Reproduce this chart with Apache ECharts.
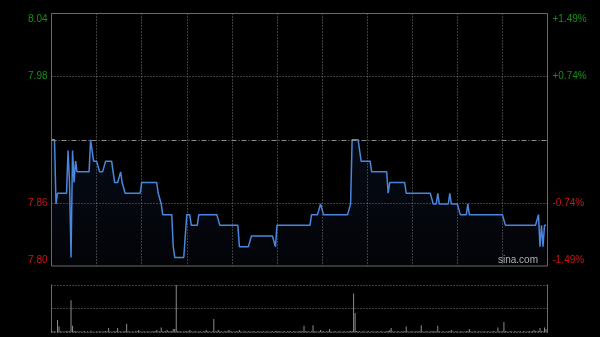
<!DOCTYPE html>
<html><head><meta charset="utf-8">
<script src="https://cdn.jsdelivr.net/npm/echarts@6/dist/echarts.min.js"></script>
<style>html,body{margin:0;padding:0;background:#000;}#c{width:600px;height:337px;}</style>
</head><body><div id="c"></div>
<script>
// ---- data ----
const prevClose = 7.92;
const priceMin = 7.802;
const priceMax = 8.038;
const priceTickLabels = ['7.80', '7.86', '', '7.98', '8.04'];
const pctTickLabels = ['-1.49%', '-0.74%', '', '+0.74%', '+1.49%'];

const price = [
7.92,7.92,7.92,7.86,7.87,7.87,7.87,7.87,7.87,7.87,
7.87,7.91,7.88,7.81,7.91,7.88,7.90,7.89,7.89,7.89,
7.89,7.89,7.89,7.89,7.89,7.89,7.92,7.91,7.90,7.90,
7.90,7.90,7.89,7.89,7.89,7.89,7.90,7.90,7.90,7.90,
7.90,7.90,7.88,7.88,7.88,7.88,7.89,7.88,7.88,7.87,
7.87,7.87,7.87,7.87,7.87,7.87,7.87,7.87,7.87,7.87,
7.88,7.88,7.88,7.88,7.88,7.88,7.88,7.88,7.88,7.88,
7.88,7.87,7.87,7.86,7.85,7.85,7.85,7.85,7.85,7.85,
7.85,7.82,7.81,7.81,7.81,7.81,7.81,7.81,7.81,7.81,
7.85,7.85,7.85,7.84,7.84,7.84,7.84,7.84,7.85,7.85,
7.85,7.85,7.85,7.85,7.85,7.85,7.85,7.85,7.85,7.85,
7.85,7.85,7.84,7.84,7.84,7.84,7.84,7.84,7.84,7.84,
7.84,7.84,7.84,7.84,7.84,7.82,7.82,7.82,7.82,7.82,
7.82,7.82,7.82,7.83,7.83,7.83,7.83,7.83,7.83,7.83,
7.83,7.83,7.83,7.83,7.83,7.83,7.83,7.83,7.83,7.82,
7.84,7.84,7.84,7.84,7.84,7.84,7.84,7.84,7.84,7.84,
7.84,7.84,7.84,7.84,7.84,7.84,7.84,7.84,7.84,7.84,
7.84,7.84,7.84,7.85,7.85,7.85,7.85,7.85,7.85,7.86,
7.86,7.85,7.85,7.85,7.85,7.85,7.85,7.85,7.85,7.85,
7.85,7.85,7.85,7.85,7.85,7.85,7.85,7.85,7.85,7.86,
7.92,7.92,7.92,7.92,7.92,7.92,7.90,7.90,7.90,7.90,
7.90,7.90,7.90,7.89,7.89,7.89,7.89,7.89,7.89,7.89,
7.89,7.89,7.89,7.89,7.87,7.88,7.88,7.88,7.88,7.88,
7.88,7.88,7.88,7.88,7.88,7.88,7.87,7.87,7.87,7.87,
7.87,7.87,7.87,7.87,7.87,7.87,7.87,7.87,7.87,7.87,
7.87,7.87,7.87,7.87,7.86,7.86,7.86,7.87,7.86,7.86,
7.86,7.86,7.86,7.86,7.86,7.87,7.86,7.86,7.86,7.86,
7.86,7.86,7.85,7.85,7.85,7.85,7.85,7.86,7.85,7.85,
7.85,7.85,7.85,7.85,7.85,7.85,7.85,7.85,7.85,7.85,
7.85,7.85,7.85,7.85,7.85,7.85,7.85,7.85,7.85,7.85,
7.85,7.85,7.84,7.84,7.84,7.84,7.84,7.84,7.84,7.84,
7.84,7.84,7.84,7.84,7.84,7.84,7.84,7.84,7.84,7.84,
7.84,7.84,7.84,7.84,7.85,7.82,7.84,7.82,7.84,7.84
];

// relative volume (tallest bar = 100)
const volume = [
3,2,2,1,26,12,2,2,1,2,
2,3,2,68,14,3,2,2,1,2,
1,2,2,1,2,1,2,2,1,1,
2,1,2,2,1,2,3,2,9,2,
1,2,2,3,9,2,2,1,2,3,
18,2,2,1,2,1,2,2,5,2,
1,2,2,1,2,2,1,2,2,3,
5,2,2,10,2,2,3,5,2,2,
3,7,7,100,3,2,2,1,2,2,
2,2,5,2,1,2,2,1,2,2,
1,2,2,5,2,2,1,2,28,2,
2,5,2,2,1,2,2,2,5,2,
2,1,2,2,2,5,2,1,2,2,
1,2,2,1,2,2,1,2,2,1,
2,2,1,2,2,1,2,2,1,3,
3,2,2,1,2,2,1,2,2,2,
1,2,2,1,2,2,3,2,14,2,
2,2,1,2,15,2,2,1,2,5,
2,2,1,2,2,7,2,1,2,2,
1,2,2,1,2,2,1,2,2,3,
3,82,41,3,2,2,1,2,2,1,
2,2,1,2,2,1,2,2,1,2,
2,1,2,2,3,5,9,2,2,1,
2,2,1,2,2,2,12,2,1,2,
2,1,2,2,2,2,15,2,1,2,
2,1,2,2,3,2,2,14,2,1,
2,2,1,2,2,3,5,2,1,2,
2,1,2,2,1,2,2,3,7,2,
1,2,2,1,2,2,1,2,2,1,
2,2,1,2,2,2,1,10,2,2,
2,22,3,2,1,2,2,1,2,2,
1,2,2,1,2,2,1,2,2,2,
2,5,2,2,3,9,2,2,10,7
];

// minute categories 09:30-12:00, 13:01-16:00 (331 slots)
const times = [];
(function () {
  function fmt(m) { const h = Math.floor(m / 60), mm = m % 60; return (h < 10 ? '0' : '') + h + ':' + (mm < 10 ? '0' : '') + mm; }
  for (let m = 570; m <= 720; m++) times.push(fmt(m));
  for (let m = 781; m <= 960; m++) times.push(fmt(m));
})();

const GREEN = '#159015', RED = '#cc1616', GRID = '#7a7a7a', FRAME = '#6a6a6a';
const DOT = [1, 2];

const chart = echarts.init(document.getElementById('c'), null, { renderer: 'canvas' });

function labelFmt(arr) {
  return function (v) {
    const i = Math.round(v) + 2;
    const t = arr[i];
    if (!t) return '';
    if (i === 4) return '{upTop|' + t + '}';
    if (i === 3) return '{up|' + t + '}';
    if (i === 1) return '{dn|' + t + '}';
    return '{dnBot|' + t + '}';
  };
}
const FF = 'Liberation Sans, Arial, sans-serif';
const rich = {
  upTop: { color: GREEN, fontSize: 10, fontFamily: FF, padding: [12, 0, 0, 0] },
  up: { color: GREEN, fontSize: 10, fontFamily: FF },
  dn: { color: RED, fontSize: 10, fontFamily: FF },
  dnBot: { color: RED, fontSize: 10, fontFamily: FF, padding: [0, 0, 12, 0] }
};

chart.setOption({
  backgroundColor: '#000',
  animation: false,
  grid: [
    { left: 51.5, right: 52.5, top: 13.5, height: 252.5, show: true, borderColor: FRAME, borderWidth: 1, backgroundColor: 'transparent' },
    { left: 51.5, right: 52.5, top: 285, height: 47.3, show: false }
  ],
  xAxis: [
    { gridIndex: 0, type: 'category', data: times, boundaryGap: false,
      axisLine: { show: false }, axisTick: { show: false }, axisLabel: { show: false },
      splitLine: { show: true, interval: function (idx) { return idx % 30 === 0 && idx > 0 && idx < 330; },
        lineStyle: { color: GRID, type: DOT, width: 1 } } },
    { gridIndex: 1, type: 'category', data: times, boundaryGap: false,
      axisLine: { show: false }, axisTick: { show: false }, axisLabel: { show: false }, splitLine: { show: false } }
  ],
  yAxis: [
    { gridIndex: 0, type: 'value', min: priceMin, max: priceMax, show: false, splitLine: { show: false } },
    { gridIndex: 0, type: 'value', min: -2, max: 2, interval: 1, position: 'left',
      axisLine: { show: false }, axisTick: { show: false },
      axisLabel: { formatter: labelFmt(priceTickLabels), rich: rich, margin: 4 },
      splitLine: { show: true, lineStyle: { color: ['transparent', GRID, 'transparent', GRID, 'transparent'], type: DOT, width: 1 } } },
    { gridIndex: 0, type: 'value', min: -2, max: 2, interval: 1, position: 'right',
      axisLine: { show: false }, axisTick: { show: false },
      axisLabel: { formatter: labelFmt(pctTickLabels), rich: rich, margin: 5 },
      splitLine: { show: false } },
    { gridIndex: 1, type: 'value', min: 0, max: 100, interval: 50, position: 'left',
      axisLine: { show: true, lineStyle: { color: FRAME, width: 1 } }, axisTick: { show: false }, axisLabel: { show: false },
      splitLine: { show: true, lineStyle: { color: GRID, type: DOT, width: 1 } } },
    { gridIndex: 1, type: 'value', min: 0, max: 100, position: 'right',
      axisLine: { show: true, lineStyle: { color: FRAME, width: 1 } }, axisTick: { show: false }, axisLabel: { show: false },
      splitLine: { show: false } }
  ],
  series: [
    { type: 'line', xAxisIndex: 0, yAxisIndex: 0, data: price, showSymbol: false, symbol: 'none',
      lineStyle: { color: '#4a86dc', width: 1.5 },
      areaStyle: { origin: 'start', color: new echarts.graphic.LinearGradient(0, 0, 0, 1, [
        { offset: 0, color: 'rgba(40,70,140,0.22)' }, { offset: 1, color: 'rgba(40,70,140,0.08)' }]) },
      markLine: { silent: true, symbol: ['none', 'none'], label: { show: false },
        lineStyle: { color: '#8a8a8a', type: [5, 2, 1, 2], width: 1 },
        data: [{ yAxis: prevClose }] },
      z: 3 },
    { type: 'bar', xAxisIndex: 1, yAxisIndex: 3, data: volume, barWidth: 1,
      itemStyle: { color: '#8c8c8c' } }
  ],
  graphic: [
    { type: 'text', left: 498, top: 255, z: 10,
      style: { text: 'sina.com', fill: '#b0b0b0', font: '10px "Liberation Sans", Arial, sans-serif' } }
  ]
});
</script>
</body></html>
